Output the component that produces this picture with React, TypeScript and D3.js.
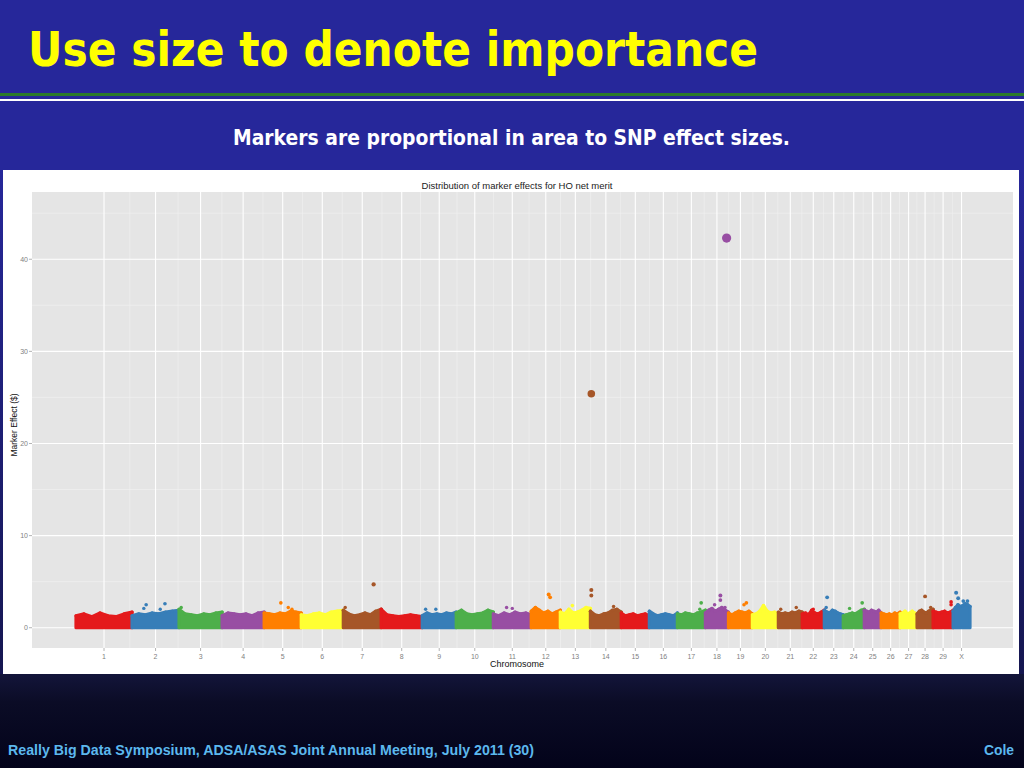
import { useEffect } from "react"
import * as d3 from "d3"

// chromosome names, in plotting order
const chromosomes = [
  "1", "2", "3", "4", "5", "6", "7", "8", "9", "10",
  "11", "12", "13", "14", "15", "16", "17", "18", "19", "20",
  "21", "22", "23", "24", "25", "26", "27", "28", "29", "X",
]

// approximate number of SNPs per chromosome (x axis is SNP index)
const snpCounts = [
  2720, 2280, 2090, 2040, 1800, 2040, 1840, 1990, 1650, 1800,
  1840, 1410, 1460, 1500, 1360, 1360, 1360, 1120, 1160, 1260,
  1160, 1070, 920, 1020, 820, 920, 820, 780, 970, 820,
]

// top of the dense band of small effects, read along each chromosome ($)
const bandTops = [
  [1.3, 1.5, 1.2, 1.6, 1.3, 1.2, 1.5, 1.7],
  [1.3, 1.5, 1.4, 1.6, 1.5, 1.7, 1.8, 1.9],
  [2.0, 1.5, 1.4, 1.3, 1.5, 1.4, 1.6, 1.7],
  [1.3, 1.6, 1.5, 1.4, 1.5, 1.3, 1.6, 1.7],
  [1.6, 1.5, 1.4, 1.6, 1.5, 1.8, 1.7, 1.6],
  [1.4, 1.3, 1.5, 1.6, 1.4, 1.7, 1.8, 1.9],
  [1.9, 1.5, 1.3, 1.4, 1.6, 1.4, 1.8, 2.0],
  [2.0, 1.4, 1.3, 1.2, 1.3, 1.4, 1.3, 1.2],
  [1.3, 1.6, 1.4, 1.5, 1.4, 1.6, 1.5, 1.7],
  [1.6, 1.9, 1.5, 1.4, 1.5, 1.6, 1.9, 1.7],
  [1.5, 1.3, 1.6, 1.4, 1.7, 1.5, 1.6, 1.4],
  [1.8, 2.2, 1.9, 1.6, 1.8, 1.5, 1.7, 1.9],
  [1.7, 1.5, 2.0, 1.6, 1.7, 1.9, 2.2, 2.1],
  [1.8, 1.4, 1.3, 1.5, 1.6, 1.9, 2.0, 1.7],
  [1.6, 1.3, 1.4, 1.5, 1.3, 1.4, 1.5, 1.3],
  [1.8, 1.5, 1.3, 1.4, 1.5, 1.4, 1.3, 1.6],
  [1.5, 1.4, 1.6, 1.5, 1.4, 1.6, 1.7, 1.9],
  [1.6, 1.9, 2.1, 1.8, 2.0, 2.2, 1.9, 1.7],
  [1.6, 1.4, 1.6, 1.8, 1.7, 1.6, 1.8, 1.5],
  [1.4, 1.5, 1.8, 2.4, 1.8, 1.6, 1.7, 1.5],
  [1.7, 1.5, 1.6, 1.5, 1.7, 1.6, 1.8, 1.7],
  [1.5, 1.6, 1.4, 1.9, 1.6, 1.5, 1.7, 1.9],
  [1.9, 1.7, 1.6, 1.9, 1.8, 1.6, 1.5, 1.4],
  [1.3, 1.4, 1.5, 1.6, 1.5, 1.7, 1.9, 2.0],
  [1.9, 1.8, 1.7, 1.9, 1.8, 1.7, 1.9, 1.6],
  [1.6, 1.5, 1.4, 1.5, 1.4, 1.6, 1.5, 1.7],
  [1.5, 1.6, 1.8, 1.5, 1.6, 1.8, 1.6, 1.5],
  [1.5, 1.8, 1.9, 1.7, 1.6, 1.8, 1.9, 2.0],
  [1.8, 1.7, 1.6, 1.7, 1.8, 1.6, 1.7, 1.9],
  [1.8, 2.2, 2.5, 2.3, 2.4, 2.6, 2.5, 2.3],
]

// markers standing out of the band: chromosome index, position within it (0-1), effect ($)
const outlierChrom = [
  1, 1, 1, 1, 2, 4, 4, 4, 6, 6, 8, 8, 10, 10, 11, 11, 12,
  13, 13, 13, 13, 16, 16, 17, 17, 17, 17, 17, 18, 18, 20, 20, 21,
  22, 22, 23, 23, 27, 27, 28, 28, 29, 29, 29, 29,
]
const outlierPos = [
  0.25, 0.3, 0.6, 0.7, 0.05, 0.45, 0.65, 0.75, 0.05, 0.8, 0.1, 0.4, 0.35, 0.5, 0.6, 0.65, 0.4,
  0.03, 0.03, 0.03, 0.75, 0.8, 0.85, 0.4, 0.65, 0.65, 0.85, 0.92, 0.65, 0.75, 0.1, 0.75, 0.5,
  0.1, 0.15, 0.3, 0.9, 0.5, 0.85, 0.9, 0.9, 0.18, 0.3, 0.6, 0.85,
]
const outlierEffect = [
  2.1, 2.5, 2.0, 2.6, 2.2, 2.7, 2.2, 2.0, 2.2, 4.7, 2.0, 2.0, 2.2, 2.1, 3.6, 3.3, 2.4,
  25.4, 4.1, 3.5, 2.3, 2.0, 2.7, 2.5, 3.5, 3.0, 2.2, 42.3, 2.5, 2.7, 2.0, 2.2, 2.0,
  2.2, 3.3, 2.1, 2.7, 3.4, 2.2, 2.8, 2.5, 3.8, 3.2, 2.9, 2.9,
]

const yMajor = [0, 10, 20, 30, 40]
const yMinor = [5, 15, 25, 35, 45]

const palette = d3.schemeSet1.slice(0, 7)

const panel = { left: 32, right: 1013, top: 192, bottom: 648 }

export default function App() {
  useEffect(() => {
    document.body.style.margin = "0"
  }, [])

  const starts = d3.cumsum([0, ...snpCounts.slice(0, -1)])
  const total = d3.sum(snpCounts)
  const mids = chromosomes.map((_, i) => starts[i] + snpCounts[i] / 2)

  const x = d3.scaleLinear().domain([0, total]).range([76, 970])
  const y = d3.scaleLinear().domain([-2.2, 47.3]).range([panel.bottom, panel.top])
  const r = d3.scaleSqrt().domain([0, 42.3]).range([0.9, 4.6])
  const color = (i: number) => palette[i % palette.length]

  const area = d3
    .area<[number, number]>()
    .x((d) => x(d[0]))
    .y0(y(0))
    .y1((d) => y(d[1]))

  const minorX = mids.slice(1).map((m, i) => (m + mids[i]) / 2)

  const outliers = outlierChrom
    .map((c, i) => ({
      c,
      pos: starts[c] + outlierPos[i] * snpCounts[c],
      v: outlierEffect[i],
    }))
    .sort((a, b) => a.v - b.v)

  const tickFont = { fontFamily: "Liberation Sans, Arial, sans-serif", fontSize: 7, fill: "#7f7f7f" }

  return (
    <svg width={1024} height={768} style={{ display: "block" }}>
      <defs>
        <linearGradient id="bottomBg" x1="0" y1="0" x2="0" y2="1">
          <stop offset="0" stopColor="#13153a" />
          <stop offset="0.3" stopColor="#0b0c26" />
          <stop offset="1" stopColor="#03031a" />
        </linearGradient>
        <linearGradient id="leftBg" x1="0" y1="0" x2="0" y2="1">
          <stop offset="0" stopColor="#26279a" />
          <stop offset="1" stopColor="#151650" />
        </linearGradient>
      </defs>

      {/* slide background */}
      <rect x={0} y={0} width={1024} height={170} fill="#26279a" />
      <rect x={0} y={170} width={1024} height={504} fill="url(#leftBg)" />
      <rect x={0} y={674} width={1024} height={94} fill="url(#bottomBg)" />
      <rect x={0} y={93} width={1024} height={3} fill="#2b7a2b" />
      <rect x={0} y={99} width={1024} height={2} fill="#ffffff" />

      <text
        x={28}
        y={66}
        fill="#ffff00"
        fontFamily="DejaVu Sans, Verdana, sans-serif"
        fontWeight="bold"
        fontSize={48}
        textLength={730}
        lengthAdjust="spacingAndGlyphs"
      >
        Use size to denote importance
      </text>
      <text
        x={233}
        y={145}
        fill="#ffffff"
        fontFamily="DejaVu Sans, Verdana, sans-serif"
        fontWeight="bold"
        fontSize={21}
        textLength={557}
        lengthAdjust="spacingAndGlyphs"
      >
        Markers are proportional in area to SNP effect sizes.
      </text>

      {/* chart canvas */}
      <rect x={3} y={170} width={1016} height={504} fill="#ffffff" />
      <text
        x={517}
        y={189}
        textAnchor="middle"
        fontFamily="Liberation Sans, Arial, sans-serif"
        fontSize={9.5}
        fill="#222"
      >
        Distribution of marker effects for HO net merit
      </text>

      <rect
        x={panel.left}
        y={panel.top}
        width={panel.right - panel.left}
        height={panel.bottom - panel.top}
        fill="#e5e5e5"
      />
      {yMinor.map((v) => (
        <line key={"ym" + v} x1={panel.left} x2={panel.right} y1={y(v)} y2={y(v)} stroke="#f2f2f2" strokeWidth={0.6} />
      ))}
      {minorX.map((m, i) => (
        <line key={"xm" + i} x1={x(m)} x2={x(m)} y1={panel.top} y2={panel.bottom} stroke="#f2f2f2" strokeWidth={0.6} />
      ))}
      {yMajor.map((v) => (
        <line key={"yM" + v} x1={panel.left} x2={panel.right} y1={y(v)} y2={y(v)} stroke="#ffffff" strokeWidth={1.1} />
      ))}
      {mids.map((m, i) => (
        <line key={"xM" + i} x1={x(m)} x2={x(m)} y1={panel.top} y2={panel.bottom} stroke="#ffffff" strokeWidth={1.1} />
      ))}

      {/* dense band of small effects */}
      {bandTops.map((tops, i) => {
        const pts: [number, number][] = tops.map((v, j) => [
          starts[i] + (j / (tops.length - 1)) * snpCounts[i],
          v,
        ])
        return (
          <g key={"band" + i}>
            <path
              d={area(pts) || ""}
              fill={color(i)}
              stroke={color(i)}
              strokeWidth={3.2}
              strokeLinejoin="round"
            />
            {pts.map((p, j) => (
              <circle key={j} cx={x(p[0])} cy={y(p[1])} r={r(p[1])} fill={color(i)} />
            ))}
          </g>
        )
      })}

      {/* individual markers */}
      {outliers.map((o, i) => (
        <circle key={"o" + i} cx={x(o.pos)} cy={y(o.v)} r={r(o.v)} fill={color(o.c)} />
      ))}

      {/* axes */}
      {yMajor.map((v) => (
        <g key={"yt" + v}>
          <line x1={panel.left - 3} x2={panel.left} y1={y(v)} y2={y(v)} stroke="#7f7f7f" strokeWidth={0.6} />
          <text x={panel.left - 4} y={y(v) + 2.4} textAnchor="end" {...tickFont}>
            {v}
          </text>
        </g>
      ))}
      {mids.map((m, i) => (
        <g key={"xt" + i}>
          <line x1={x(m)} x2={x(m)} y1={panel.bottom} y2={panel.bottom + 3} stroke="#7f7f7f" strokeWidth={0.6} />
          <text x={x(m)} y={panel.bottom + 11} textAnchor="middle" {...tickFont}>
            {chromosomes[i]}
          </text>
        </g>
      ))}
      <text
        x={517}
        y={667}
        textAnchor="middle"
        fontFamily="Liberation Sans, Arial, sans-serif"
        fontSize={9}
        fill="#111"
      >
        Chromosome
      </text>
      <text
        transform={`translate(17, ${(panel.top + panel.bottom) / 2 + 5}) rotate(-90)`}
        textAnchor="middle"
        fontFamily="Liberation Sans, Arial, sans-serif"
        fontSize={8.5}
        fill="#111"
      >
        Marker Effect ($)
      </text>

      {/* footer */}
      <text
        x={8}
        y={755}
        fill="#5cb8ee"
        fontFamily="Liberation Sans, Arial, sans-serif"
        fontWeight="bold"
        fontSize={14}
        textLength={526}
        lengthAdjust="spacingAndGlyphs"
      >
        Really Big Data Symposium, ADSA/ASAS Joint Annual Meeting, July 2011 (30)
      </text>
      <text
        x={1014}
        y={755}
        textAnchor="end"
        fill="#5cb8ee"
        fontFamily="Liberation Sans, Arial, sans-serif"
        fontWeight="bold"
        fontSize={14}
        textLength={30}
        lengthAdjust="spacingAndGlyphs"
      >
        Cole
      </text>
    </svg>
  )
}
